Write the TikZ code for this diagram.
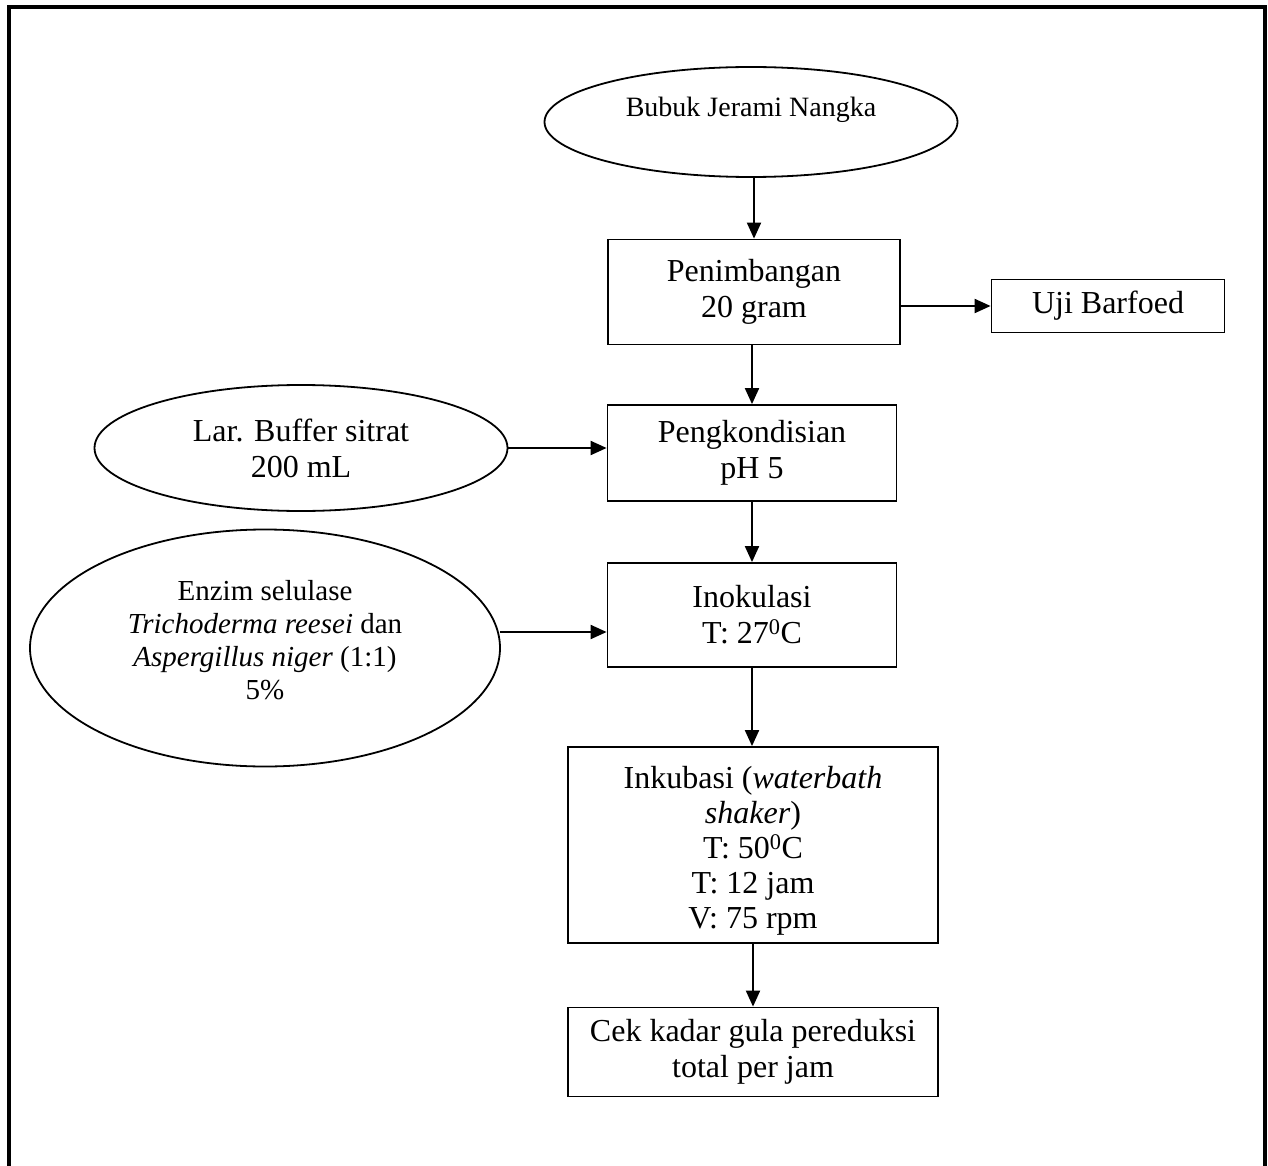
\documentclass[tikz,border=0pt]{standalone}
\usepackage{fontspec}
\setmainfont{Liberation Serif}
\usetikzlibrary{arrows.meta,shapes.geometric,positioning}

\begin{document}
\begin{tikzpicture}[y=-1pt,x=1pt,
	proses/.style={draw,line width=1.8pt,rectangle,align=center,inner sep=0pt,font=\fontsize{32}{36}\selectfont},
	bahan/.style={draw,line width=1.8pt,ellipse,inner sep=0pt,align=center},
	panah/.style={-{Triangle[length=16pt,width=14pt]},line width=2pt}]
	\useasboundingbox (0,0) rectangle (1268,1166);
	\draw[line width=3.5pt] (9,7) rectangle (1265,1180);

	% bahan
	\node[bahan,minimum width=413pt,minimum height=110pt] (bubuk) at (751,122) {};
	\node[font=\fontsize{28}{32}\selectfont] (bubuktxt) at (751,110) {Bubuk Jerami Nangka};
	\node[bahan,minimum width=413pt,minimum height=126pt,font=\fontsize{32}{36}\selectfont] (buffer) at (301,448) {Lar. Buffer sitrat\\200 mL};
	\node[bahan,minimum width=470pt,minimum height=237pt] (enzim) at (265,648) {};
	\node[align=center,font=\fontsize{29}{33}\selectfont] (enzimtxt) at (265,640) {Enzim selulase\\\textit{Trichoderma reesei} dan\\\textit{Aspergillus niger} (1:1)\\5\%};

	% proses
	\node[proses,minimum width=292pt,minimum height=105pt] (timbang) at (754,292) {Penimbangan\\20 gram};
	\node[proses,minimum width=233pt,minimum height=53pt] (barfoed) at (1108,306) {Uji Barfoed};
	\node[proses,minimum width=289pt,minimum height=96pt] (kondisi) at (752,453) {Pengkondisian\\pH 5};
	\node[proses,minimum width=289pt,minimum height=104pt] (inokulasi) at (752,615) {Inokulasi\\T: 27\textsuperscript{0}C};
	\node[proses,minimum width=370pt,minimum height=196pt] (inkubasi) at (753,845) {};
	\node[align=center,font=\fontsize{32}{35}\selectfont] (inkubasitxt) at (753,851) {Inkubasi (\textit{waterbath}\\\textit{shaker})\\T: 50\textsuperscript{0}C\\T: 12 jam\\V: 75 rpm};
	\node[proses,minimum width=370pt,minimum height=89pt] (cek) at (753,1052) {Cek kadar gula pereduksi\\total per jam};

	\coordinate (enzimout) at (500,632);

	\draw[panah] (timbang.north |- bubuk.south) -- (timbang.north);
	\draw[panah] (timbang.east |- barfoed.west) -- (barfoed.west);
	\draw[panah] (timbang.south -| kondisi.north) -- (kondisi.north);
	\draw[panah] (buffer.east) -- (buffer.east -| kondisi.west);
	\draw[panah] (kondisi.south) -- (inokulasi.north);
	\draw[panah] (enzimout) -- (enzimout -| inokulasi.west);
	\draw[panah] (inokulasi.south) -- (inokulasi.south |- inkubasi.north);
	\draw[panah] (inkubasi.south) -- (cek.north);
\end{tikzpicture}
\end{document}
